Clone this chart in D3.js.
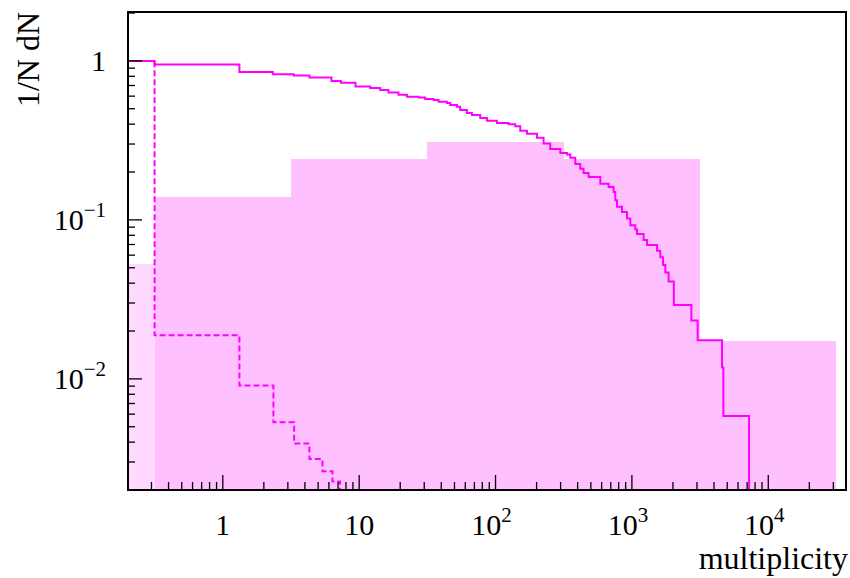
<!DOCTYPE html>
<html>
<head>
<meta charset="utf-8">
<script src="https://cdn.jsdelivr.net/npm/d3@7"></script>
<style>
  html, body { margin: 0; padding: 0; background: #fff; }
  svg { display: block; }
  text { font-family: "Liberation Serif", "DejaVu Serif", serif; fill: #000; }
</style>
</head>
<body>
<svg id="chart" width="850" height="578"></svg>
<script>
// ---------- data ----------
const xDomain = [0.2018, 37150];
const yDomain = [0.002, 2.03];

// filled histogram (bin edges and contents)
const fillEdges = [0.2018, 0.3162, 3.162, 31.62, 316.2, 3162, 31623];
const fillValues = [0.0528, 0.1387, 0.240, 0.307, 0.243, 0.0174];

// solid step curve: value starting at each edge
const solidEdges = [0.2018, 0.316, 1.324, 2.327, 3.318, 4.319, 6.264, 7.34, 9.40, 12.04, 14.26, 16.41, 19.43, 22.39, 27.23, 30.50, 35.09, 38.18, 44.00, 46.53, 52.11, 55.08, 61.68, 67.13, 77.22, 86.48, 102.4, 124.6, 139.5, 151.8, 170.0, 201.3, 225.0, 251.9, 298.4, 334.0, 353.2, 384.2, 418.2, 442.2, 481.3, 586.6, 674.8, 734.0, 755.4, 777.5, 846.1, 920.6, 973.4, 1059, 1090, 1218, 1291, 1529, 1616, 1691, 1759, 1859, 2030, 2728, 3034, 4581, 4684, 7229, 37150];
const solidValues = [1.0, 0.948, 0.850, 0.825, 0.809, 0.786, 0.746, 0.728, 0.690, 0.675, 0.655, 0.633, 0.612, 0.595, 0.589, 0.576, 0.567, 0.554, 0.543, 0.528, 0.515, 0.491, 0.471, 0.457, 0.438, 0.421, 0.407, 0.399, 0.388, 0.364, 0.348, 0.328, 0.302, 0.279, 0.263, 0.258, 0.246, 0.225, 0.210, 0.197, 0.186, 0.169, 0.161, 0.150, 0.133, 0.121, 0.112, 0.102, 0.0926, 0.0871, 0.0814, 0.0746, 0.0694, 0.0640, 0.0581, 0.0520, 0.0466, 0.0409, 0.0292, 0.0233, 0.0175, 0.0118, 0.00584, 0.0001, 0.0001];

// dashed step curve
const dashEdges = [0.2018, 0.316, 1.324, 2.351, 3.336, 4.319, 5.38, 6.37, 7.24, 37150];
const dashValues = [1.0, 0.0188, 0.0091, 0.00533, 0.00392, 0.00313, 0.00262, 0.00226, 0.0015, 0.0015];

const xTickLabels = [[1, "1", ""], [10, "10", ""], [100, "10", "2"], [1000, "10", "3"], [10000, "10", "4"]];
const yTickLabels = [[1, "1", ""], [0.1, "10", "\u22121"], [0.01, "10", "\u22122"]];
const xTitle = "multiplicity";
const yTitle = "1/N dN";

// ---------- layout ----------
const L = 128, R = 846, T = 12, B = 490;
const svg = d3.select("#chart");
const x = d3.scaleLog().domain(xDomain).range([L, R]);
const y = d3.scaleLog().domain(yDomain).range([B, T]);

svg.append("defs").append("clipPath").attr("id", "plotclip")
  .append("rect").attr("x", L).attr("y", T).attr("width", R - L).attr("height", B - T);

const plot = svg.append("g").attr("clip-path", "url(#plotclip)");

// filled bins as one step area (first bin lighter)
const area = d3.area()
  .x(d => x(d[0]))
  .y0(B)
  .y1(d => y(d[1]))
  .curve(d3.curveStepAfter);

const firstBin = [[fillEdges[0], fillValues[0]], [fillEdges[1], fillValues[0]]];
const restBins = fillValues.slice(1).map((v, i) => [fillEdges[i + 1], v]);
restBins.push([fillEdges[fillEdges.length - 1], fillValues[fillValues.length - 1]]);

plot.append("path").datum(firstBin).attr("d", area).attr("fill", "#ffd9ff")
  .attr("shape-rendering", "crispEdges");
plot.append("path").datum(restBins).attr("d", area).attr("fill", "#ffc0ff")
  .attr("shape-rendering", "crispEdges");

// step lines
function stepPoints(edges, values) {
  const pts = [];
  for (let i = 0; i < values.length; i++) pts.push([edges[i], values[i]]);
  pts.push([edges[edges.length - 1], values[values.length - 1]]);
  return pts;
}
const line = d3.line()
  .x(d => x(d[0]))
  .y(d => Math.min(y(Math.max(d[1], 1e-6)), B + 20))
  .curve(d3.curveStepAfter);

plot.append("path")
  .datum(stepPoints(dashEdges, dashValues))
  .attr("d", line)
  .attr("fill", "none")
  .attr("stroke", "#ff00ff")
  .attr("stroke-width", 2)
  .attr("stroke-dasharray", "6,3");

plot.append("path")
  .datum(stepPoints(solidEdges, solidValues))
  .attr("d", line)
  .attr("fill", "none")
  .attr("stroke", "#ff00ff")
  .attr("stroke-width", 2);

// ---------- axes ----------
const axisG = svg.append("g");
const xTicks = [];
for (let e = -1; e <= 4; e++) {
  for (let m = 1; m <= 9; m++) {
    const v = m * Math.pow(10, e);
    if (v >= xDomain[0] && v <= xDomain[1]) xTicks.push({v, major: m === 1});
  }
}
axisG.selectAll("line.xt").data(xTicks).enter().append("line")
  .attr("x1", d => x(d.v)).attr("x2", d => x(d.v))
  .attr("y1", B).attr("y2", d => B - (d.major ? 15 : 8))
  .attr("stroke", "#000").attr("stroke-width", 1.3);

const yTicks = [];
for (let e = -3; e <= 0; e++) {
  for (let m = 1; m <= 9; m++) {
    const v = m * Math.pow(10, e);
    if (v >= yDomain[0] && v <= yDomain[1]) yTicks.push({v, major: m === 1});
  }
}
axisG.selectAll("line.yt").data(yTicks).enter().append("line")
  .attr("y1", d => y(d.v)).attr("y2", d => y(d.v))
  .attr("x1", L).attr("x2", d => L + (d.major ? 14 : 7))
  .attr("stroke", "#000").attr("stroke-width", 1.3);

// frame
svg.append("rect").attr("x", L).attr("y", T).attr("width", R - L).attr("height", B - T)
  .attr("fill", "none").attr("stroke", "#000").attr("stroke-width", 2);

// x tick labels
xTickLabels.forEach(([v, base, sup]) => {
  const t = svg.append("text")
    .attr("x", x(v) + (sup ? -4 : 0)).attr("y", 535)
    .attr("text-anchor", "middle").attr("font-size", 30);
  t.append("tspan").text(base);
  if (sup) t.append("tspan").attr("font-size", 21).attr("dy", -13).text(sup);
});

// y tick labels
yTickLabels.forEach(([v, base, sup]) => {
  const t = svg.append("text")
    .attr("x", 106).attr("y", y(v) + 10)
    .attr("text-anchor", "end").attr("font-size", 30);
  t.append("tspan").text(base);
  if (sup) t.append("tspan").attr("font-size", 21).attr("dy", -13).text(sup);
});

// titles
svg.append("text")
  .attr("x", 848).attr("y", 569)
  .attr("text-anchor", "end").attr("font-size", 32)
  .text(xTitle);

svg.append("text")
  .attr("transform", "translate(39,12) rotate(-90)")
  .attr("text-anchor", "end").attr("font-size", 32)
  .text(yTitle);
</script>
</body>
</html>
